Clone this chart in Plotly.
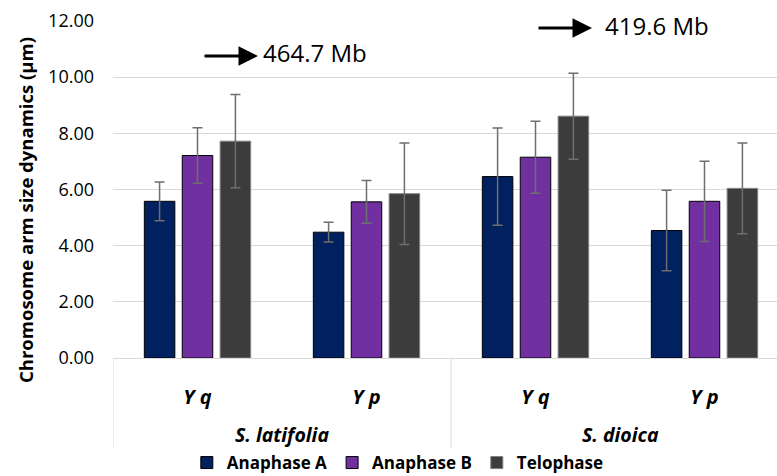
import plotly.graph_objects as go

# ---- data ----
species = ["S. latifolia", "S. latifolia", "S. dioica", "S. dioica"]
arms = ["Y q", "Y p", "Y q", "Y p"]
categories = ["lat_Yq", "lat_Yp", "dio_Yq", "dio_Yp"]

anaphase_a = [5.58, 4.48, 6.46, 4.54]
anaphase_a_err = [0.69, 0.35, 1.73, 1.43]
anaphase_b = [7.21, 5.56, 7.15, 5.58]
anaphase_b_err = [0.99, 0.76, 1.28, 1.43]
telophase = [7.72, 5.85, 8.61, 6.04]
telophase_err = [1.66, 1.81, 1.53, 1.62]

series_names = ["Anaphase A", "Anaphase B", "Telophase"]
y_ticks = [0, 2, 4, 6, 8, 10, 12]
y_tick_labels = ["0.00", "2.00", "4.00", "6.00", "8.00", "10.00", "12.00"]

size_labels = ["464.7 Mb", "419.6 Mb"]

FONT = "Open Sans"
W, H = 777, 476
ML, MR, MT, MB = 113, 0, 21, 118
PW, PH = W - ML - MR, H - MT - MB

def px_x(px):
    return (px - ML) / PW

def px_y(py):
    return (H - MB - py) / PH

fig = go.Figure()
styles = [
    ("#002060", "#000000"),
    ("#7030A0", "#000000"),
    ("#3C3C3C", "#7F7F7F"),
]
for name, vals, errs, (fill, line) in zip(
    series_names,
    [anaphase_a, anaphase_b, telophase],
    [anaphase_a_err, anaphase_b_err, telophase_err],
    styles,
):
    fig.add_trace(go.Bar(
        name=name, x=categories, y=vals,
        marker=dict(color=fill, line=dict(color=line, width=1)),
        error_y=dict(type="data", array=errs, visible=True,
                     color="#6E6E6E", thickness=1.5, width=5),
    ))

annotations = []
# species group labels
groups = []
for i, sp in enumerate(species):
    if not groups or groups[-1][0] != sp:
        groups.append([sp, i, i])
    else:
        groups[-1][2] = i
for sp, i0, i1 in groups:
    annotations.append(dict(
        text="<b><i>%s</i></b>" % sp, x=(i0 + i1) / 2, xref="x",
        y=px_y(434), yref="paper", showarrow=False, yanchor="middle",
        font=dict(family=FONT, size=19.5, color="#000000"),
    ))

# y-axis title
annotations.append(dict(
    text="<b>Chromosome arm size dynamics (µm)</b>", textangle=-90,
    x=px_x(26), xref="paper", y=px_y(210), yref="paper",
    xanchor="center", yanchor="middle", showarrow=False,
    font=dict(family=FONT, size=18.5, color="#000000"),
))

# genome size arrows + labels
arrow_specs = [
    (px_x(258), px_y(56), px_x(261), px_y(53)),
    (px_x(592), px_y(28), px_x(603), px_y(26)),
]
for lab, (tx, ty, lx, ly) in zip(size_labels, arrow_specs):
    annotations.append(dict(
        text="", x=tx, y=ty, xref="paper", yref="paper",
        showarrow=True, ax=-55, ay=0, arrowhead=2, arrowsize=1.3,
        arrowwidth=3, arrowcolor="#000000", standoff=0,
    ))
    annotations.append(dict(
        text=lab, x=lx, y=ly, xref="paper", yref="paper",
        xanchor="left", yanchor="middle", showarrow=False,
        font=dict(family=FONT, size=24, color="#000000"),
    ))

shapes = []
for xb in [-0.5, 1.5, 3.5]:
    shapes.append(dict(
        type="line", xref="x", yref="paper", x0=xb, x1=xb,
        y0=0, y1=px_y(448), line=dict(color="#D9D9D9", width=1),
    ))

fig.update_layout(
    width=W, height=H,
    margin=dict(l=ML, r=MR, t=MT, b=MB, pad=0),
    paper_bgcolor="#FFFFFF", plot_bgcolor="#FFFFFF",
    barmode="group", bargap=0.327, bargroupgap=0.195,
    font=dict(family=FONT, color="#000000"),
    annotations=annotations, shapes=shapes,
    showlegend=True,
    legend=dict(
        orientation="h", xref="container", yref="container",
        x=0.512, xanchor="center", y=1 - 463 / H, yanchor="middle",
        font=dict(family=FONT, size=17, color="#000000", weight="bold"),
        itemwidth=30, tracegroupgap=0, bgcolor="rgba(0,0,0,0)",
    ),
)
fig.update_xaxes(
    type="category", range=[-0.5, -0.5 + PW / 169.0],
    tickvals=categories, ticktext=["<b><i>%s</i></b>" % a for a in arms],
    tickfont=dict(family=FONT, size=20, color="#000000"),
    ticks="", ticklabelstandoff=21,
    showgrid=False, showline=True, linecolor="#D9D9D9", linewidth=1,
    zeroline=False,
)
fig.update_yaxes(
    range=[0, 12], tickvals=y_ticks, ticktext=y_tick_labels,
    tickfont=dict(family=FONT, size=18, color="#000000"),
    showgrid=True, gridcolor="#D9D9D9", gridwidth=1,
    zeroline=False, showline=False, ticks="", ticklabelstandoff=18,
)

fig.write_html(
    "out.html",
    config={"displayModeBar": False},
    post_script="document.body.style.margin='0px';document.body.style.overflow='hidden';",
)
